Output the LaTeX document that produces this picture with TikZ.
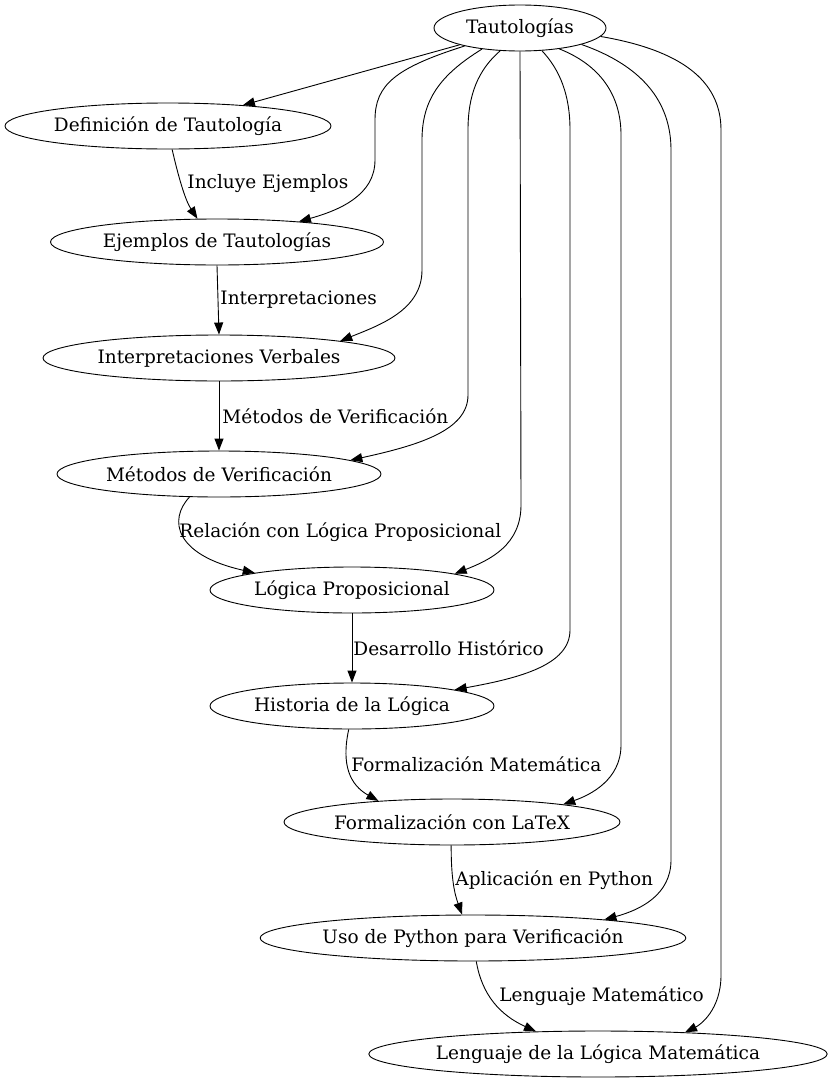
\documentclass[tikz,border=0pt]{standalone}
\usepackage{fontspec}
\setmainfont{DejaVu Serif}
\usetikzlibrary{shapes.geometric,arrows.meta}

\begin{document}
\begin{tikzpicture}[x=1pt,y=-1pt,>={Triangle[length=12pt,width=9pt]},line width=0.9pt,
        topic node/.style={ellipse,draw,inner sep=0pt,minimum height=46pt,font=\fontsize{18.5}{22}\selectfont},
        edge label/.style={anchor=west,inner sep=1pt,font=\fontsize{18.5}{22}\selectfont}]
    \useasboundingbox (0,0) rectangle (830,1084);
            \node[topic node,minimum width=172pt] (taut) at (520,28) {Tautologías};
            \node[topic node,minimum width=326pt] (defin) at (168,126) {Definición de Tautología};
            \node[topic node,minimum width=333pt] (ejem) at (217,242) {Ejemplos de Tautologías};
            \node[topic node,minimum width=352pt] (interp) at (219,358) {Interpretaciones Verbales};
            \node[topic node,minimum width=324pt] (metod) at (219,474) {Métodos de Verificación};
            \node[topic node,minimum width=284pt] (logprop) at (352,590) {Lógica Proposicional};
            \node[topic node,minimum width=284pt] (hist) at (352,706) {Historia de la Lógica};
            \node[topic node,minimum width=336pt] (formal) at (452,822) {Formalización con LaTeX};
            \node[topic node,minimum width=425pt] (python) at (473,938) {Uso de Python para Verificación};
            \node[topic node,minimum width=451pt] (lengu) at (598,1054) {Lenguaje de la Lógica Matemática};
            % chain with labels
            \draw[->] (defin.-80) .. controls (178,175) and (185,200) .. (ejem.130)
                node[edge label] at (186,184) {Incluye Ejemplos};
            \draw[->] (ejem.south) -- (interp.north)
                node[edge label] at (219,300) {Interpretaciones};
            \draw[->] (interp.south) -- (metod.north)
                node[edge label] at (221,416) {Métodos de Verificación};
            \draw[->] (metod.218) .. controls (168,520) and (175,555) .. (logprop.170)
                node[edge label] at (178,532) {Relación con Lógica Proposicional};
            \draw[->] (logprop.south) -- (hist.north)
                node[edge label] at (352,648) {Desarrollo Histórico};
            \draw[->] (hist.262) .. controls (341,765) and (350,785) .. (formal.164)
                node[edge label] at (350,764) {Formalización Matemática};
            \draw[->] (formal.268) .. controls (451,880) and (455,895) .. (python.115)
                node[edge label] at (454,880) {Aplicación en Python};
            \draw[->] (python.278) .. controls (482,995) and (500,1015) .. (lengu.160)
                node[edge label] at (498,996) {Lenguaje Matemático};
            % from the root
            \draw[->] (taut) -- (defin);
            \draw[->] (taut.198) .. controls (395,68) and (375,85) .. (375,120) -- (375,160)
                .. controls (375,195) and (340,210) .. (ejem.14);
            \draw[->] (taut.209) .. controls (440,75) and (422,100) .. (422,140) -- (422,270)
                .. controls (422,310) and (380,325) .. (interp.8);
            \draw[->] (taut.229) .. controls (478,70) and (468,95) .. (468,130) -- (468,395)
                .. controls (468,430) and (420,445) .. (metod.6);
            \draw[->] (taut.south) -- (521,505) .. controls (521,545) and (490,560) .. (logprop.9);
            \draw[->] (taut.-46) .. controls (560,70) and (570,95) .. (570,130) -- (570,630)
                .. controls (570,665) and (520,678) .. (hist.9);
            \draw[->] (taut.-28) .. controls (600,65) and (621,95) .. (621,135) -- (621,745)
                .. controls (621,780) and (590,795) .. (formal.9);
            \draw[->] (taut.-15) .. controls (640,65) and (671,100) .. (671,150) -- (671,860)
                .. controls (671,895) and (640,910) .. (python.8);
            \draw[->] (taut.-6) .. controls (680,50) and (721,80) .. (721,130) -- (721,975)
                .. controls (721,1010) and (700,1025) .. (lengu.14);
        \end{tikzpicture}
\end{document}
